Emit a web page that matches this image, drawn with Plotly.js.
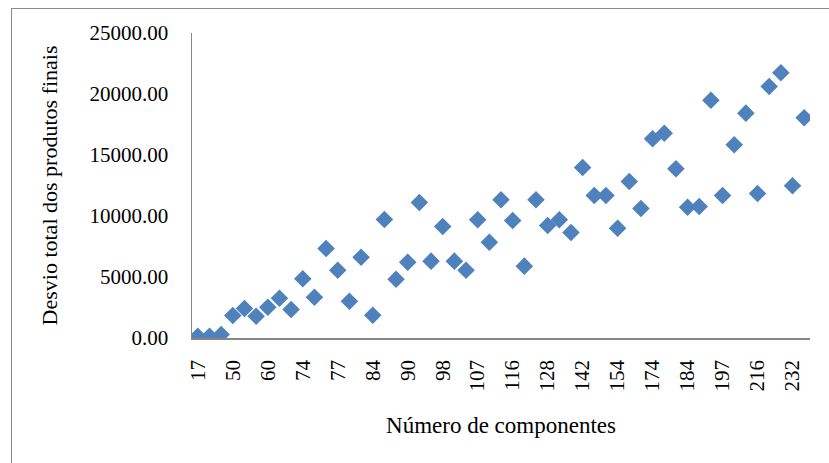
<!DOCTYPE html>
<html>
<head>
<meta charset="utf-8">
<script src="https://cdn.plot.ly/plotly-3.0.1.min.js"></script>
<style>
html,body{margin:0;padding:0;background:#fff;overflow:hidden;}
#wrap{position:relative;width:829px;height:463px;}
#chart{position:absolute;left:0;top:0;width:829px;height:463px;}
#frame{position:absolute;left:11px;top:8px;width:900px;height:600px;border-top:1.5px solid #8c8c8c;border-left:1.5px solid #8c8c8c;pointer-events:none;}
</style>
</head>
<body>
<div id="wrap"><div id="chart"></div><div id="frame"></div></div>
<script>
// Number of components (categories); only every third label is visible in the reference
const categories = ['17','20','35','50','52','55','60','65','70','74','75','76','77','80','82','84','86','88','90','92','95','98','100','104','107','110','113','116','120','125','128','132','137','142','145','150','154','160','168','174','177','180','184','188','192','197','203','210','216','220','226','232','240'];
const visibleLabels = ['17','50','60','74','77','84','90','98','107','116','128','142','154','174','184','197','216','232'];
// Total deviation of final products
const desvioTotal = [150,150,290,1840,2420,1790,2520,3260,2340,4850,3340,7340,5560,3020,6620,1870,9710,4820,6210,11110,6300,9140,6300,5560,9690,7850,11330,9630,5890,11330,9220,9690,8650,13980,11680,11680,9000,12830,10620,16330,16790,13870,10720,10780,19490,11680,15840,18430,11840,20620,21740,12480,18050];

const trace = {
  type: 'scatter',
  mode: 'markers',
  x: categories,
  y: desvioTotal,
  marker: {symbol: 'diamond', size: 13.5, color: '#4F81BD'},
  hoverinfo: 'x+y'
};

const font = "'Liberation Serif', 'Times New Roman', serif";
const layout = {
  width: 829, height: 463,
  margin: {l: 192, r: 19, t: 33, b: 125},
  paper_bgcolor: '#ffffff', plot_bgcolor: '#ffffff',
  showlegend: false,
  font: {family: font, color: '#000000', size: 20},
  xaxis: {
    type: 'category',
    categoryorder: 'array', categoryarray: categories,
    range: [-0.5, categories.length - 0.5],
    tickmode: 'array', tickvals: visibleLabels, ticktext: visibleLabels,
    tickangle: -90,
    tickfont: {family: font, size: 21, color: '#000'},
    showgrid: false, zeroline: false,
    showline: true, linecolor: '#868686', linewidth: 1.5,
    ticks: '', ticklabelstandoff: 12,
    title: {text: 'Número de componentes', font: {family: font, size: 23, color: '#000'}, standoff: 26}
  },
  yaxis: {
    range: [0, 25000],
    tickvals: [0,5000,10000,15000,20000,25000],
    tickformat: '.2f',
    tickfont: {family: font, size: 21, color: '#000'},
    showgrid: false, zeroline: false,
    showline: true, linecolor: '#868686', linewidth: 1.5,
    ticks: '', ticklabelstandoff: 18,
    title: {text: 'Desvio total dos produtos finais', font: {family: font, size: 22, color: '#000'}, standoff: 26}
  }
};

Plotly.newPlot('chart', [trace], layout, {displayModeBar: false, staticPlot: true});
</script>
</body>
</html>
